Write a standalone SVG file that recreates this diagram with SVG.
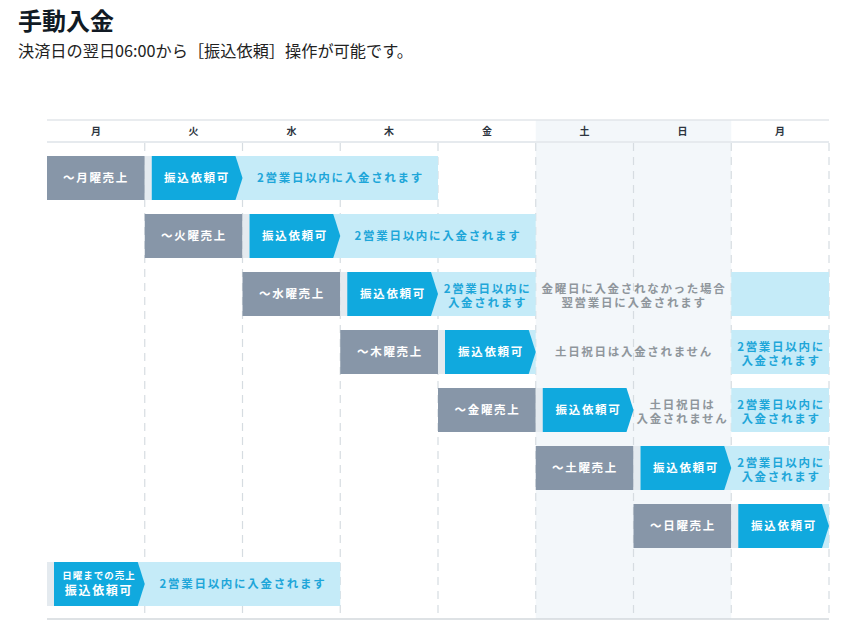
<svg xmlns="http://www.w3.org/2000/svg" width="842" height="630" viewBox="0 0 842 630">
<style>
text{font-family:"Noto Sans CJK JP","Noto Sans",sans-serif;}
.title{font-size:24px;font-weight:700;fill:#111a24;}
.sub{font-size:16.2px;font-weight:400;fill:#222;}
.day{font-size:10px;font-weight:700;fill:#2d3540;text-anchor:middle;}
.lbl{font-size:11.5px;font-weight:700;fill:#fff;text-anchor:middle;letter-spacing:1.7px;}
.bt{font-size:11.5px;font-weight:700;fill:#1ea6d9;text-anchor:middle;letter-spacing:1.7px;}
.gt{font-size:11.5px;font-weight:700;fill:#8f969c;text-anchor:middle;letter-spacing:1.7px;}
.gray{fill:#8796a8;}
.blue{fill:#10a9de;}
.light{fill:#c5ebf8;}
.gap{fill:#e4eaef;}
.grid{stroke:#d6dce1;stroke-width:1.2;stroke-dasharray:8 6;fill:none;}
</style>
<rect width="842" height="630" fill="#fff"/>
<text class="title" x="18" y="30">手動入金</text>
<text class="sub" x="18" y="57">決済日の翌日06:00から［振込依頼］操作が可能です。</text>

<g id="grid">
<rect x="535.75" y="120" width="195.5" height="499" fill="#f3f7fa"/>
<line x1="47" y1="120" x2="829" y2="120" stroke="#e2e6ea" stroke-width="1.5"/>
<line x1="47" y1="142" x2="829" y2="142" stroke="#e6eaee" stroke-width="2"/>
<line x1="47" y1="619" x2="829" y2="619" stroke="#d3d8dd" stroke-width="1.5"/>
<path class="grid" d="M144.75 143V619M242.5 143V619M340.25 143V619M438 143V619M535.75 143V619M633.5 143V619M731.25 143V619M829 143V619"/>
<text class="day" x="95.9" y="134.5">月</text>
<text class="day" x="193.6" y="134.5">火</text>
<text class="day" x="291.4" y="134.5">水</text>
<text class="day" x="389.1" y="134.5">木</text>
<text class="day" x="486.9" y="134.5">金</text>
<text class="day" x="584.6" y="134.5">土</text>
<text class="day" x="682.4" y="134.5">日</text>
<text class="day" x="780.1" y="134.5">月</text>
</g>

<g id="connectors"></g>

<g id="row-mon">
<rect class="gray" x="47" y="156" width="97.75" height="44"/>
<text class="lbl" x="96" y="182">～月曜売上</text>
<rect class="gap" x="144.75" y="156" width="7" height="44"/>
<rect class="light" x="235.5" y="156" width="202.5" height="44"/>
<path class="blue" d="M151.75 156H235.5L242.5 178L235.5 200H151.75Z"/>
<text class="lbl" x="197" y="182">振込依頼可</text>
<text class="bt" x="340.5" y="182">2営業日以内に入金されます</text>
</g>

<g id="row-tue">
<rect class="gray" x="144.75" y="214" width="97.75" height="44"/>
<text class="lbl" x="194" y="240">～火曜売上</text>
<rect class="gap" x="242.5" y="214" width="7" height="44"/>
<rect class="light" x="333.25" y="214" width="202.5" height="44"/>
<path class="blue" d="M249.5 214H333.25L340.25 236L333.25 258H249.5Z"/>
<text class="lbl" x="295" y="240">振込依頼可</text>
<text class="bt" x="438" y="240">2営業日以内に入金されます</text>
</g>

<g id="row-wed">
<rect class="gray" x="242.5" y="272" width="97.75" height="44"/>
<text class="lbl" x="292" y="298">～水曜売上</text>
<rect class="gap" x="340.25" y="272" width="7" height="44"/>
<rect class="light" x="431" y="272" width="104.75" height="44"/>
<path class="blue" d="M347.25 272H431L438 294L431 316H347.25Z"/>
<text class="lbl" x="393" y="298">振込依頼可</text>
<text class="bt" x="487.5" y="292.5">2営業日以内に</text>
<text class="bt" x="487.5" y="307">入金されます</text>
<text class="gt" x="634" y="292.5">金曜日に入金されなかった場合</text>
<text class="gt" x="634" y="307">翌営業日に入金されます</text>
<rect class="light" x="731.25" y="272" width="97.75" height="44"/>
</g>

<g id="row-thu">
<rect class="gray" x="340.25" y="330" width="97.75" height="44"/>
<text class="lbl" x="390" y="356">～木曜売上</text>
<rect class="gap" x="438" y="330" width="7" height="44"/>
<rect class="light" x="528.75" y="330" width="7" height="44"/>
<path class="blue" d="M445 330H528.75L535.75 352L528.75 374H445Z"/>
<text class="lbl" x="491" y="356">振込依頼可</text>
<text class="gt" x="634" y="356">土日祝日は入金されません</text>
<rect class="light" x="731.25" y="330" width="97.75" height="44"/>
<text class="bt" x="781" y="350.5">2営業日以内に</text>
<text class="bt" x="781" y="365">入金されます</text>
</g>

<g id="row-fri">
<rect class="gray" x="438" y="388" width="97.75" height="44"/>
<text class="lbl" x="487.5" y="414">～金曜売上</text>
<rect class="gap" x="535.75" y="388" width="7" height="44"/>
<path class="blue" d="M542.75 388H626.5L633.5 410L626.5 432H542.75Z"/>
<text class="lbl" x="588.5" y="414">振込依頼可</text>
<text class="gt" x="682.5" y="408.5">土日祝日は</text>
<text class="gt" x="682.5" y="423">入金されません</text>
<rect class="light" x="731.25" y="388" width="97.75" height="44"/>
<text class="bt" x="781" y="408.5">2営業日以内に</text>
<text class="bt" x="781" y="423">入金されます</text>
</g>

<g id="row-sat">
<rect class="gray" x="535.75" y="446" width="97.75" height="44"/>
<text class="lbl" x="585" y="472">～土曜売上</text>
<rect class="gap" x="633.5" y="446" width="7" height="44"/>
<rect class="light" x="724.25" y="446" width="104.75" height="44"/>
<path class="blue" d="M640.5 446H724.25L731.25 468L724.25 490H640.5Z"/>
<text class="lbl" x="686" y="472">振込依頼可</text>
<text class="bt" x="781" y="466.5">2営業日以内に</text>
<text class="bt" x="781" y="481">入金されます</text>
</g>

<g id="row-sun">
<rect class="gray" x="633.5" y="504" width="97.75" height="44"/>
<text class="lbl" x="683" y="530">～日曜売上</text>
<rect class="gap" x="731.25" y="504" width="7" height="44"/>
<rect class="light" x="822" y="504" width="7" height="44"/>
<path class="blue" d="M738.25 504H822L829 526L822 548H738.25Z"/>
<text class="lbl" x="784" y="530">振込依頼可</text>
</g>

<g id="row-until-sun">
<rect class="gap" x="47" y="562" width="7" height="44"/>
<rect class="light" x="137.75" y="562" width="202.5" height="44"/>
<path class="blue" d="M54 562H137.75L144.75 584L137.75 606H54Z"/>
<text x="99" y="578.5" style="font-size:9.5px;font-weight:700;fill:#fff;text-anchor:middle;letter-spacing:1px">日曜までの売上</text>
<text x="99" y="594.5" style="font-size:12px;font-weight:700;fill:#fff;text-anchor:middle;letter-spacing:1.7px">振込依頼可</text>
<text class="bt" x="243" y="588">2営業日以内に入金されます</text>
</g>
</svg>
